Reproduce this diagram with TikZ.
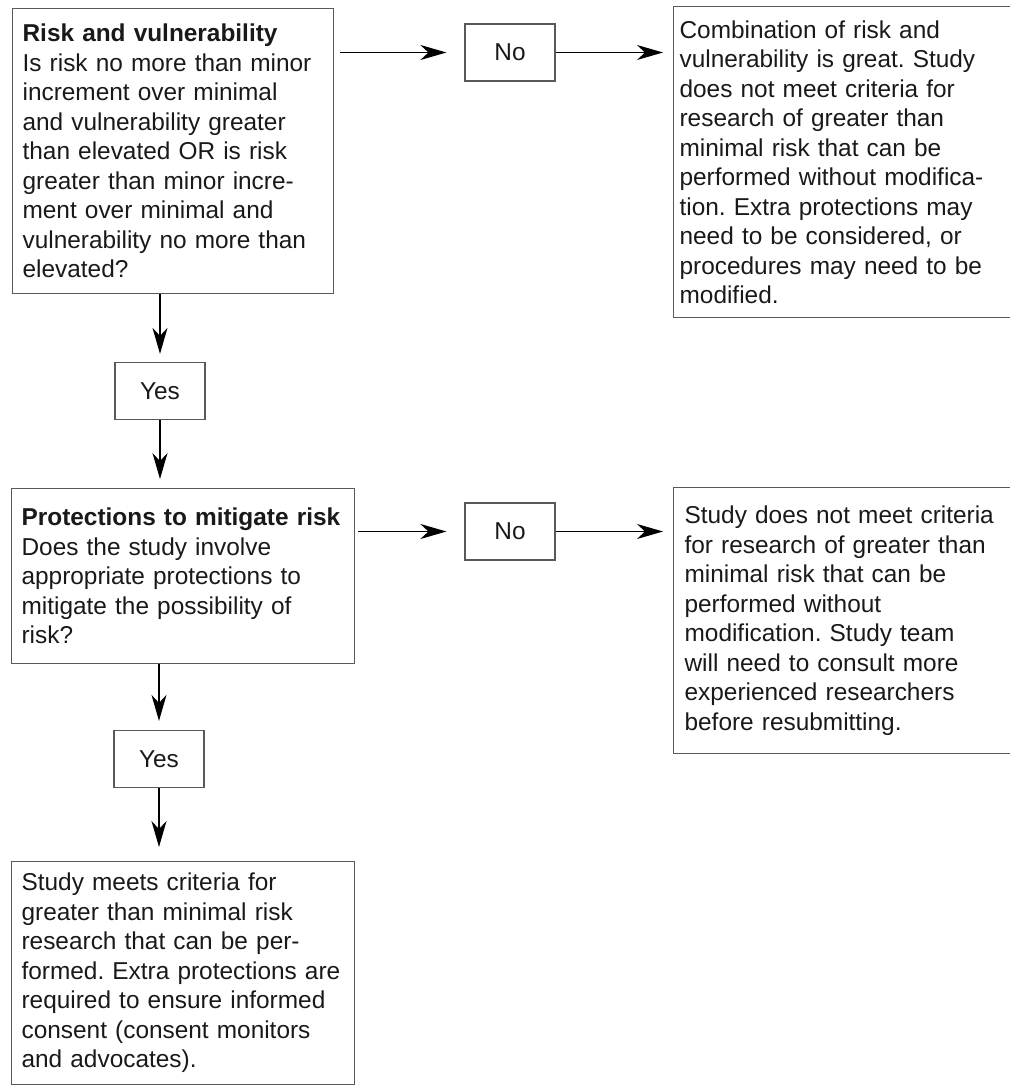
\documentclass[tikz,border=0pt]{standalone}
\usepackage{fontspec}
\setmainfont{Liberation Sans}
\usetikzlibrary{arrows.meta}
\frenchspacing

\tikzset{
  textbox/.style={rectangle, draw=black!65, line width=0.6pt, anchor=north west,
    align=left, inner ysep=0pt, text=black!90,
    font=\fontsize{12.2}{14.75}\selectfont},
  answer/.style={rectangle, draw=black!65, line width=0.6pt, inner sep=0pt,
    minimum width=45pt, minimum height=28.5pt, text=black!90,
    font=\fontsize{12.2}{14.75}\selectfont},
  flow/.style={-{Stealth[length=13pt,width=7.5pt,inset=4pt]}, line width=0.7pt}
}

\begin{document}
\begin{tikzpicture}[x=0.5pt,y=-0.5pt]
  % Page frame
  \useasboundingbox (0,0) rectangle (1010,1086);
  % First question
  \node[textbox, inner xsep=5pt, text width=150.5pt, minimum height=142.5pt] (risk) at (12,8)
    {\textbf{Risk and vulnerability}\\Is risk no more than minor\\increment over minimal\\and vulnerability greater\\than elevated OR is risk\\greater than minor incre-\\ment over minimal and\\vulnerability no more than\\elevated?};
  \node[answer] (no1) at (510,52.5) {No};
  \node[textbox, inner xsep=3pt, text width=180pt, minimum height=155.5pt] (great) at (673,6)
    {Combination of risk and\\vulnerability is great. Study\\does not meet criteria for\\research of greater than\\minimal risk that can be\\performed without modifica-\\tion. Extra protections may\\need to be considered, or\\procedures may need to be\\modified.};
  \node[answer] (yes1) at (160,391) {Yes};
  % Second question
  \node[textbox, inner xsep=5pt, text width=161.5pt, minimum height=87.5pt] (mitig) at (11,488)
    {\textbf{Protections to mitigate risk}\\Does the study involve\\appropriate protections to\\mitigate the possibility of\\risk?};
  \node[answer] (no2) at (510,531.5) {No};
  \node[textbox, inner xsep=5.5pt, text width=180pt, minimum height=133pt] (consult) at (673,487)
    {Study does not meet criteria\\for research of greater than\\minimal risk that can be\\performed without\\modification. Study team\\will need to consult more\\experienced researchers\\before resubmitting.};
  \node[answer] (yes2) at (159,759) {Yes};
  % Outcome
  \node[textbox, inner xsep=5pt, text width=161.5pt, minimum height=111.5pt] (meets) at (11,861)
    {Study meets criteria for\\greater than minimal risk\\research that can be per-\\formed. Extra protections are\\required to ensure informed\\consent (consent monitors\\and advocates).};
  % Connectors
  \draw[flow, shorten <=3pt, shorten >=9pt] (risk.east |- no1.west) -- (no1.west);
  \draw[flow, shorten >=5pt] (no1.east) -- (great.west |- no1.east);
  \draw[flow, shorten >=4pt] (risk.south -| yes1.north) -- (yes1.north);
  \draw[flow, shorten >=4.5pt] (yes1.south) -- (yes1.south |- mitig.north);
  \draw[flow, shorten <=1.5pt, shorten >=9pt] (mitig.east |- no2.west) -- (no2.west);
  \draw[flow, shorten >=5pt] (no2.east) -- (consult.west |- no2.east);
  \draw[flow, shorten >=4.5pt] (mitig.south -| yes2.north) -- (yes2.north);
  \draw[flow, shorten >=7pt] (yes2.south) -- (yes2.south |- meets.north);
\end{tikzpicture}
\end{document}
